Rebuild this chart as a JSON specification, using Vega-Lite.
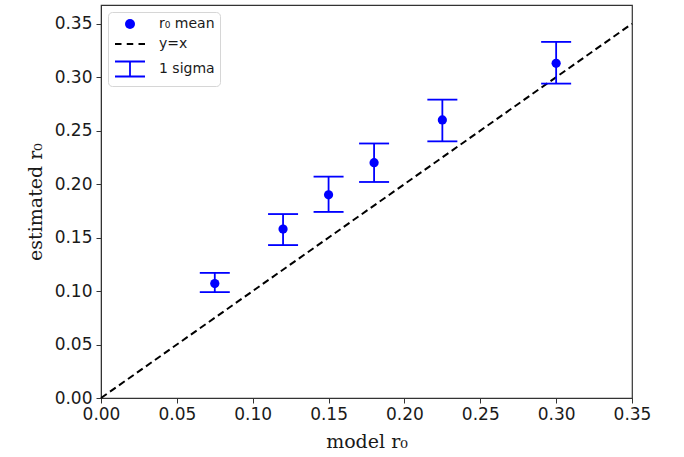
{
  "$schema": "https://vega.github.io/schema/vega-lite/v6.json",
  "autosize": "none",
  "width": 531,
  "height": 393,
  "padding": {"left": 101, "top": 5, "right": 52, "bottom": 59},
  "background": "white",
  "config": {
    "view": {"stroke": "#333333", "strokeWidth": 1.2},
    "axis": {
      "grid": false,
      "domainColor": "#333333",
      "tickColor": "#333333",
      "tickSize": 5,
      "labelFont": "DejaVu Sans",
      "labelFontSize": 17,
      "labelColor": "#1a1a1a",
      "labelFlush": false,
      "labelOverlap": false,
      "titleFont": "DejaVu Serif",
      "titleFontSize": 19,
      "titleFontWeight": "normal",
      "titleColor": "#1a1a1a"
    }
  },
  "datasets": {
    "pts": [
      {"model": 0.075, "mean": 0.107, "lo": 0.099, "hi": 0.117},
      {"model": 0.12, "mean": 0.158, "lo": 0.143, "hi": 0.172},
      {"model": 0.15, "mean": 0.190, "lo": 0.174, "hi": 0.207},
      {"model": 0.18, "mean": 0.220, "lo": 0.202, "hi": 0.238},
      {"model": 0.225, "mean": 0.260, "lo": 0.240, "hi": 0.279},
      {"model": 0.30, "mean": 0.313, "lo": 0.294, "hi": 0.333}
    ],
    "diag": [{"x": 0, "y": 0, "x2": 0.35, "y2": 0.35}]
  },
  "layer": [
    {
      "data": {"name": "diag"},
      "mark": {"type": "rule", "color": "black", "strokeWidth": 2, "strokeDash": [7, 4]},
      "encoding": {
        "x": {"field": "x", "type": "quantitative", "scale": {"domain": [0, 0.35], "nice": false, "zero": true},
          "axis": {"values": [0, 0.05, 0.1, 0.15, 0.2, 0.25, 0.3, 0.35], "format": ".2f", "title": "model r₀", "titlePadding": 10, "labelPadding": 3}},
        "y": {"field": "y", "type": "quantitative", "scale": {"domain": [0, 0.3675], "nice": false},
          "axis": {"values": [0, 0.05, 0.1, 0.15, 0.2, 0.25, 0.3, 0.35], "format": ".2f", "title": "estimated r₀", "titlePadding": 9, "labelPadding": 4}},
        "x2": {"field": "x2"},
        "y2": {"field": "y2"}
      }
    },
    {
      "data": {"name": "pts"},
      "mark": {"type": "rule", "color": "#0000ff", "strokeWidth": 1.8},
      "encoding": {
        "x": {"field": "model", "type": "quantitative"},
        "y": {"field": "lo", "type": "quantitative"},
        "y2": {"field": "hi"}
      }
    },
    {
      "data": {"name": "pts"},
      "mark": {"type": "tick", "orient": "horizontal", "color": "#0000ff", "size": 30, "thickness": 1.8, "opacity": 1},
      "encoding": {
        "x": {"field": "model", "type": "quantitative"},
        "y": {"field": "lo", "type": "quantitative"}
      }
    },
    {
      "data": {"name": "pts"},
      "mark": {"type": "tick", "orient": "horizontal", "color": "#0000ff", "size": 30, "thickness": 1.8, "opacity": 1},
      "encoding": {
        "x": {"field": "model", "type": "quantitative"},
        "y": {"field": "hi", "type": "quantitative"}
      }
    },
    {
      "data": {"name": "pts"},
      "mark": {"type": "point", "filled": true, "size": 85, "opacity": 1},
      "encoding": {
        "x": {"field": "model", "type": "quantitative"},
        "y": {"field": "mean", "type": "quantitative"},
        "color": {
          "datum": "r₀ mean",
          "type": "nominal",
          "scale": {"domain": ["r₀ mean", "y=x", "1 sigma"], "range": ["#0000ff", "black", "#0000ff"]},
          "legend": {
            "title": null,
            "orient": "top-left",
            "offset": 7,
            "padding": 5,
            "rowPadding": 6,
            "symbolSize": 100,
            "symbolOffset": 10,
            "labelOffset": 22,
            "labelFont": "DejaVu Sans",
            "labelFontSize": 14,
            "labelColor": "#1a1a1a",
            "strokeColor": "#d6d6d6",
            "fillColor": "white",
            "cornerRadius": 4,
            "symbolStrokeWidth": 1.8,
            "symbolOpacity": 1,
            "encode": {
              "symbols": {
                "update": {
                  "fill": {"signal": "datum.value === 'r₀ mean' ? '#0000ff' : 'transparent'"},
                  "stroke": {"signal": "datum.value === 'y=x' ? 'black' : '#0000ff'"},
                  "strokeWidth": {"signal": "datum.value === 'r₀ mean' ? 0 : 1.8"},
                  "opacity": {"value": 1}
                }
              }
            }
          }
        },
        "shape": {
          "datum": "r₀ mean",
          "type": "nominal",
          "scale": {"domain": ["r₀ mean", "y=x", "1 sigma"], "range": ["circle", "M-3,0H-1.7M-0.65,0H0.65M1.7,0H3", "M-3,-1.5H3M0,-1.5V1.5M-3,1.5H3"]}
        }
      }
    }
  ]
}
